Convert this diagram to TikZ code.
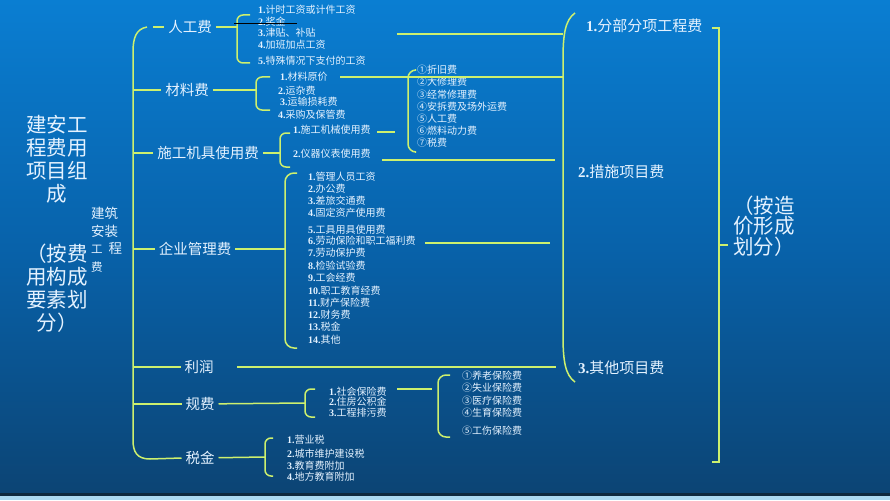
\documentclass[tikz,border=0pt]{standalone}
\usepackage{fontspec}
\setmainfont{Liberation Serif}
\newfontfamily\cjk{Noto Sans CJK SC}
\definecolor{ln}{RGB}{205,240,110}
\definecolor{tx}{RGB}{228,242,255}
\definecolor{bgt}{RGB}{10,126,210}
\definecolor{bgm}{RGB}{8,98,170}
\definecolor{bgb}{RGB}{12,68,116}
\definecolor{stripd}{RGB}{14,40,62}
\definecolor{stripl}{RGB}{170,215,240}
\newcommand\nb[1]{{\rmfamily\bfseries #1}}
\tikzset{
  mainlbl/.style={font=\cjk\fontsize{14.5}{16}\selectfont, text=tx, inner sep=0pt, outer sep=4pt},
  sublbl/.style={font=\cjk\fontsize{10}{12}\selectfont, text=tx, inner sep=0pt, anchor=west},
  rightlbl/.style={font=\cjk\fontsize{15}{17}\selectfont, text=tx, inner sep=0pt, anchor=west},
  conn/.style={draw=ln, line width=1.5pt},
  brk/.style={draw=ln, line width=1.5pt, rounded corners=6pt},
}
\begin{document}
\begin{tikzpicture}[x=1pt,y=-1pt]
\useasboundingbox (0,0) rectangle (890,500);
% background
\shade[top color=bgt, bottom color=bgb, middle color=bgm] (0,0) rectangle (890,494);
\fill[stripd] (0,493) rectangle (890,496);
\fill[stripl] (0,496) rectangle (890,500);

% left titles
\node[font=\cjk\fontsize{20.5}{23}\selectfont, text=tx, align=center, inner sep=0pt] (t1) at (57,159.5) {建安工\\程费用\\项目组\\成};
\node[font=\cjk\fontsize{20.5}{23}\selectfont, text=tx, align=center, inner sep=0pt] (t2) at (57,288) {（按费\\用构成\\要素划\\分）};
\node[font=\cjk\fontsize{13.5}{17.5}\selectfont, text=tx, align=left, inner sep=0pt, anchor=north west] (t3) at (91,207) {建筑\\安装\\{\fontsize{11.5}{17.5}\selectfont 工}\hspace{6pt}程\\{\fontsize{11.5}{17.5}\selectfont 费}};

% main labels
\node[mainlbl] (rg) at (190,27) {人工费};
\node[mainlbl] (cl) at (187,90) {材料费};
\node[mainlbl] (jx) at (208,153) {施工机具使用费};
\node[mainlbl] (qy) at (195,249) {企业管理费};
\node[mainlbl] (lr) at (199,367) {利润};
\node[mainlbl] (gf) at (200,404) {规费};
\node[mainlbl] (sj) at (200,458) {税金};

% main left bracket
\draw[conn] (147,27) .. controls (136,29) and (133,38) .. (133,52) -- (133,440) .. controls (133,452) and (137,459) .. (150,459) -- (sj.west);
\coordinate (rgL) at (153,27);
\coordinate (clL) at (133,90);
\coordinate (jxL) at (133,153);
\coordinate (qyL) at (133,249);
\coordinate (lrL) at (133,367);
\coordinate (gfL) at (133,404);
\draw[conn] (rgL) -- (rg);
\draw[conn] (clL) -- (cl);
\draw[conn] (jxL) -- (jx);
\draw[conn] (qyL) -- (qy);
\draw[conn] (lrL) -- (lr);
\draw[conn] (gfL) -- (gf);

% right dashes to small brackets
\coordinate (rgB) at (237,27);
\coordinate (clB) at (256,90);
\coordinate (jxB) at (280,153);
\coordinate (qyB) at (285,249);
\coordinate (gfB) at (305,403);
\coordinate (sjB) at (265,457);
\draw[conn] (rg) -- (rgB);
\draw[conn] (cl) -- (clB);
\draw[conn] (jx) -- (jxB);
\draw[conn] (qy) -- (qyB);
\draw[conn] (gf) -- (gfB);
\draw[conn] (sj) -- (sjB);

% small brackets
\draw[brk] (250,15) -- (237,15) -- (237,63) -- (250,63);
\draw[brk] (270,77) -- (256,77) -- (256,110) -- (270,110);
\draw[brk] (290,133) -- (280,133) -- (280,167) -- (290,167);
\draw[brk, rounded corners=9pt] (297,173) -- (285,173) -- (285,348) -- (297,348);
\draw[brk] (315,389) -- (305,389) -- (305,417) -- (315,417);
\draw[brk] (273,438) -- (265,438) -- (265,476) -- (273,476);
\draw[brk, rounded corners=8pt] (415,70) -- (408,70) -- (408,152) -- (415,152);
\draw[brk, rounded corners=8pt] (450,375) -- (438,375) -- (438,437) -- (450,437);

% 人工费 items
\node[sublbl] (a1) at (258,10) {\nb{1.}计时工资或计件工资};
\node[sublbl] (a2) at (258,22) {\nb{2.}奖金};
\node[sublbl] (a3) at (258,33) {\nb{3.}津贴、补贴};
\node[sublbl] (a4) at (258,45) {\nb{4.}加班加点工资};
\node[sublbl] (a5) at (258,61) {\nb{5.}特殊情况下支付的工资};
\draw[black, line width=1pt] (234,24) -- (297,24);

% 材料费 items
\node[sublbl] (b1) at (280,77) {\nb{1.}材料原价};
\node[sublbl] (b2) at (278,91) {\nb{2.}运杂费};
\node[sublbl] (b3) at (280,102) {\nb{3.}运输损耗费};
\node[sublbl] (b4) at (278,115) {\nb{4.}采购及保管费};

% 施工机具 items
\node[sublbl] (c1) at (293,130) {\nb{1.}施工机械使用费};
\node[sublbl] (c2) at (293,154) {\nb{2.}仪器仪表使用费};
\node[sublbl] (d1) at (417,70) {①折旧费};
\node[sublbl] (d2) at (417,82) {②大修理费};
\node[sublbl] (d3) at (417,95) {③经常修理费};
\node[sublbl] (d4) at (417,107) {④安拆费及场外运费};
\node[sublbl] (d5) at (417,119) {⑤人工费};
\node[sublbl] (d6) at (417,131) {⑥燃料动力费};
\node[sublbl] (d7) at (417,143) {⑦税费};

% 企业管理费 items
\node[sublbl] (e1) at (308,177) {\nb{1.}管理人员工资};
\node[sublbl] (e2) at (308,189) {\nb{2.}办公费};
\node[sublbl] (e3) at (308,201) {\nb{3.}差旅交通费};
\node[sublbl] (e4) at (308,213) {\nb{4.}固定资产使用费};
\node[sublbl] (e5) at (308,230) {\nb{5.}工具用具使用费};
\node[sublbl] (e6) at (308,241) {\nb{6.}劳动保险和职工福利费};
\node[sublbl] (e7) at (308,253) {\nb{7.}劳动保护费};
\node[sublbl] (e8) at (308,266) {\nb{8.}检验试验费};
\node[sublbl] (e9) at (308,278) {\nb{9.}工会经费};
\node[sublbl] (e10) at (308,291) {\nb{10.}职工教育经费};
\node[sublbl] (e11) at (308,303) {\nb{11.}财产保险费};
\node[sublbl] (e12) at (308,315) {\nb{12.}财务费};
\node[sublbl] (e13) at (308,327) {\nb{13.}税金};
\node[sublbl] (e14) at (308,340) {\nb{14.}其他};

% 规费 items
\node[sublbl] (f1) at (329,392) {\nb{1.}社会保险费};
\node[sublbl] (f2) at (329,402) {\nb{2.}住房公积金};
\node[sublbl] (f3) at (329,413) {\nb{3.}工程排污费};
\node[sublbl] (g1) at (462,376) {①养老保险费};
\node[sublbl] (g2) at (462,388) {②失业保险费};
\node[sublbl] (g3) at (462,401) {③医疗保险费};
\node[sublbl] (g4) at (462,413) {④生育保险费};
\node[sublbl] (g5) at (462,431) {⑤工伤保险费};

% 税金 items
\node[sublbl] (h1) at (287,440) {\nb{1.}营业税};
\node[sublbl] (h2) at (287,454) {\nb{2.}城市维护建设税};
\node[sublbl] (h3) at (287,466) {\nb{3.}教育费附加};
\node[sublbl] (h4) at (287,477) {\nb{4.}地方教育附加};

% long connectors to the middle bracket
\coordinate (l1a) at (397,34);  \coordinate (l1b) at (563,34);
\coordinate (l2a) at (340,77);  \coordinate (l2b) at (563,77);
\coordinate (l3a) at (377,132); \coordinate (l3b) at (395,132);
\coordinate (l4a) at (382,160); \coordinate (l4b) at (555,160);
\coordinate (l5a) at (425,243); \coordinate (l5b) at (550,243);
\coordinate (l6a) at (237,367); \coordinate (l6b) at (556,367);
\coordinate (l7a) at (397,389); \coordinate (l7b) at (432,389);
\draw[conn] (l1a) -- (l1b);
\draw[conn] (l2a) -- (l2b);
\draw[conn] (l3a) -- (l3b);
\draw[conn] (l4a) -- (l4b);
\draw[conn] (l5a) -- (l5b);
\draw[conn] (l6a) -- (l6b);
\draw[conn] (l7a) -- (l7b);

% middle big bracket
\draw[conn] (575,13) .. controls (565,20) and (563,35) .. (563,60) -- (563,335) .. controls (563,360) and (565,375) .. (575,382);

% right labels
\node[rightlbl] (r1) at (586,26) {\nb{1.}分部分项工程费};
\node[rightlbl] (r2) at (578,172) {\nb{2.}措施项目费};
\node[rightlbl] (r3) at (578,368) {\nb{3.}其他项目费};

% far right bracket
\draw[conn] (712,28) -- (719,28) -- (719,462) -- (712,462);
\coordinate (rt) at (728,245);
\draw[conn] (719,245) -- (rt);
\node[font=\cjk\fontsize{20.5}{20.5}\selectfont, text=tx, align=left, inner sep=0pt, anchor=west] (rn) at (733,226) {（按造\\价形成\\划分）};
\end{tikzpicture}
\end{document}
